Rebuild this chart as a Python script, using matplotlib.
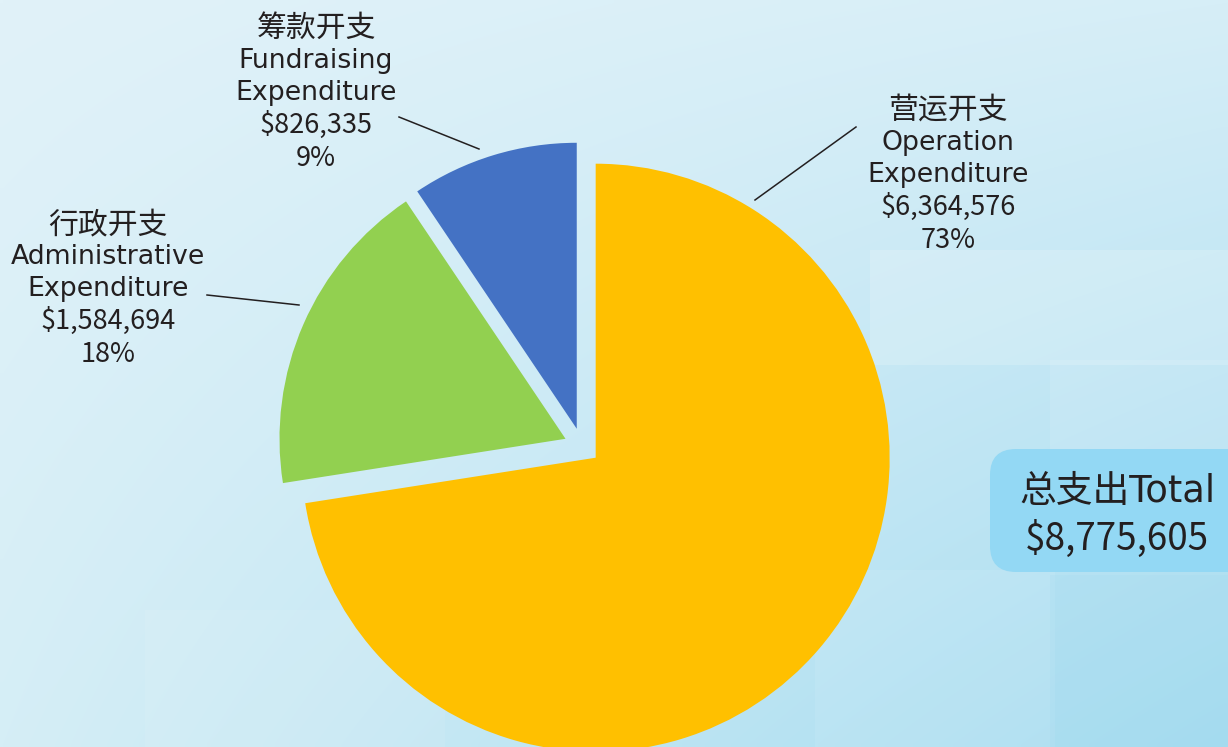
import matplotlib.pyplot as plt
import numpy as np
from matplotlib.patches import FancyBboxPatch, Rectangle

plt.rcParams['font.family'] = ['Noto Sans CJK SC', 'DejaVu Sans']

# data
names_cn = ['营运开支', '行政开支', '筹款开支']
names_en = [['Operation', 'Expenditure'],
            ['Administrative', 'Expenditure'],
            ['Fundraising', 'Expenditure']]
amounts = [6364576, 1584694, 826335]
colors = ['#FFC000', '#92D050', '#4472C4']
total_label = '总支出Total'

total = sum(amounts)
W, H = 1228, 747
TXT = '#231F20'
LATIN = ['DejaVu Sans', 'Noto Sans CJK SC']
CJK = ['Noto Sans CJK SC', 'DejaVu Sans']

fig = plt.figure(figsize=(W / 100, H / 100), dpi=100)
ax = fig.add_axes([0, 0, 1, 1])

# background gradient (light blue, darker toward bottom right)
tl = np.array([225, 242, 249]) / 255
tr = np.array([214, 238, 247]) / 255
bl = np.array([213, 238, 246]) / 255
br = np.array([166, 220, 240]) / 255
gx, gy = np.meshgrid(np.linspace(0, 1, 200), np.linspace(0, 1, 120))
gx, gy = gx[..., None], gy[..., None]
bg = (tl * (1 - gx) * (1 - gy) + tr * gx * (1 - gy)
      + bl * (1 - gx) * gy + br * gx * gy)
ax.imshow(bg, extent=(0, W, H, 0), interpolation='bilinear', zorder=0)

# faint tiles in the background
for (x0, y0, w, h, c, a) in [(870, 250, 360, 115, 'white', 0.18),
                             (1050, 360, 180, 100, 'white', 0.10),
                             (145, 610, 300, 140, 'white', 0.08),
                             (815, 570, 240, 180, 'white', 0.08),
                             (1050, 575, 180, 175, '#9FD9EE', 0.2)]:
    ax.add_patch(Rectangle((x0, y0), w, h, facecolor=c, edgecolor='none',
                           alpha=a, zorder=0.5))

# pie (y axis is flipped, so start at -90 going counterclockwise in data coords)
wedges, _ = ax.pie(amounts, colors=colors, startangle=-90, counterclock=True,
                   radius=286, center=(582, 446), explode=[18, 18, 18],
                   wedgeprops=dict(linewidth=0), frame=True)
wedges[0].set_radius(294)
for w in wedges:
    w.set_zorder(2)

# labels: Chinese name, English name (2 lines), amount, percent
label_x = [948, 108, 316]
label_y0 = [108, 222, 26]
step = 32.4
for i in range(len(amounts)):
    pct = round(100 * amounts[i] / total)
    y = label_y0[i]
    ax.text(label_x[i], y + 11, names_cn[i], fontsize=21.5, family=CJK,
            color=TXT, ha='center', va='baseline', zorder=3)
    for j, s in enumerate(names_en[i]):
        ax.text(label_x[i], y + (j + 1) * step + 9.6, s, fontsize=19.3,
                family=LATIN, color=TXT, ha='center', va='baseline', zorder=3)
    for j, s in enumerate([f'${amounts[i]:,}', f'{pct}%']):
        ax.text(label_x[i], y + (j + 3) * step + 9.9, s, fontsize=19.5,
                family=CJK, color=TXT, ha='center', va='baseline', zorder=3)

# leader lines
leaders = [((856, 127), (755, 200)), ((207, 295), (299, 305)), ((399, 117), (479, 149))]
for (x1, y1), (x2, y2) in leaders:
    ax.plot([x1, x2], [y1, y2], color=TXT, lw=1.1, zorder=3)

# total box
ax.add_patch(FancyBboxPatch((990, 449), 270, 123,
                            boxstyle='round,pad=0,rounding_size=26',
                            facecolor='#93D8F4', edgecolor='none', zorder=2))
ax.text(1117, 502, total_label, fontsize=26.5, family=LATIN, color=TXT,
        ha='center', va='baseline', zorder=3)
ax.text(1117, 550, f'${total:,}', fontsize=26.5, family=CJK, color=TXT,
        ha='center', va='baseline', zorder=3)

ax.set_xlim(0, W)
ax.set_ylim(H, 0)
ax.set_aspect('auto')
ax.axis('off')

fig.savefig('out.png', dpi=100)
